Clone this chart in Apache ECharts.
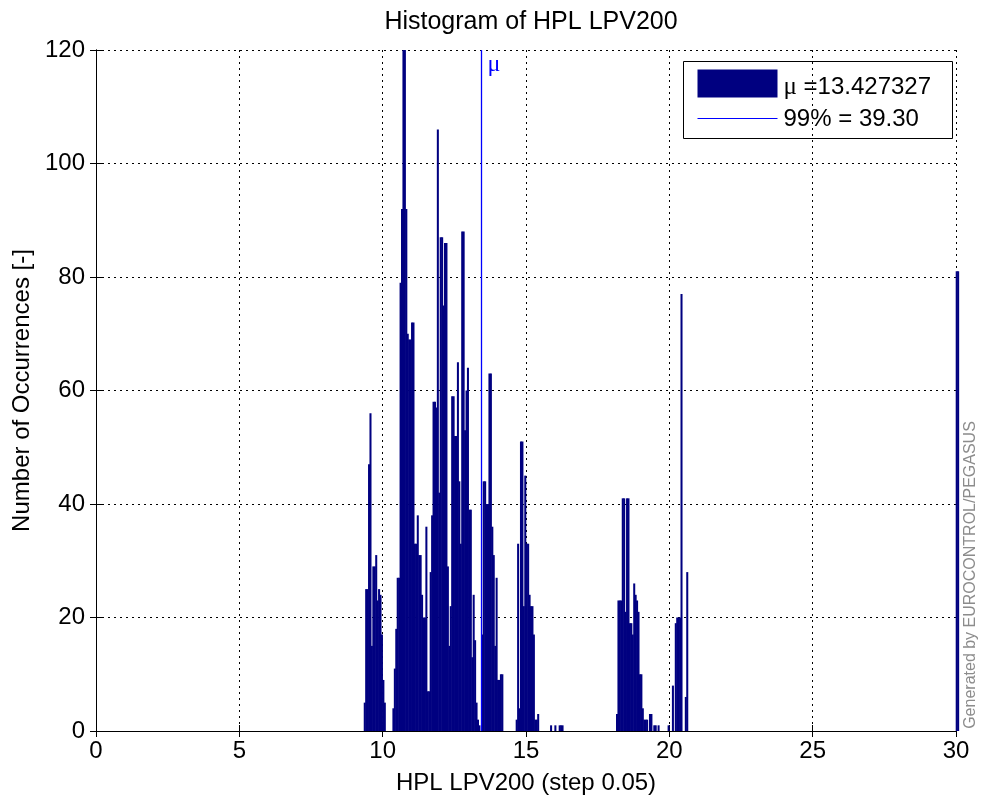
<!DOCTYPE html>
<html>
<head>
<meta charset="utf-8">
<title>Histogram of HPL LPV200</title>
<script src="https://cdn.jsdelivr.net/npm/echarts@6/dist/echarts.min.js"></script>
<style>
    html, body { margin: 0; padding: 0; background: #fff; }
    .hplHistogram { width: 982px; height: 800px; }
</style>
</head>
<body>
<div class="hplHistogram"></div>
<script>
    // histogram bin width (HPL step)
    const binStep = 0.05

    // each cluster: first bin edge + counts per 0.05 bin
    const cluster1Start = 9.35
    const cluster1Counts = [5, 25, 25, 47, 56, 15, 29, 29, 31, 23, 25, 24, 17, 9, 5]

    const cluster2Start = 10.35
    const cluster2Counts = [
        4, 11, 18, 27, 27, 79, 92, 120, 120, 92,
        70, 69, 69, 72, 72, 33, 33, 38, 31, 31,
        24, 20, 20, 36, 7, 7, 28, 38, 58, 58,
        57, 106, 42, 87, 87, 75, 86, 86, 29, 15,
        22, 59, 59, 52, 52, 65, 44, 33, 88, 88,
        53, 60, 64, 39, 39, 13, 24, 16, 5, 2,
        1, 0, 17, 44, 44, 40, 40, 63, 63, 36,
        31, 15, 27, 9, 9, 10, 10
    ]

    const cluster3Start = 14.65
    const cluster3Counts = [2, 33, 4, 51, 51, 22, 45, 33, 33, 24, 22, 22, 17, 2, 2, 3, 0, 0, 0, 0, 0, 0, 0, 0, 1, 0, 0, 1, 0, 0, 1, 1, 1]

    const cluster4Start = 18.15
    const cluster4Counts = [3, 23, 23, 23, 41, 41, 21, 41, 41, 19, 19, 17, 26, 24, 23, 21, 10, 10, 4, 2, 2, 2, 0, 3, 3, 0, 1, 1, 0, 1]

    const cluster5Start = 19.95
    const cluster5Counts = [1, 0, 0, 8, 0, 19, 20, 20, 20, 77, 0, 0, 6, 28]

    // everything above 30 lands in the last bins
    const overflowStart = 30.0
    const overflowCounts = [81, 81]

    const meanValue = 13.427327
    const p99Value = 39.30

    const xTicks = [0, 5, 10, 15, 20, 25, 30]
    const yTicks = [0, 20, 40, 60, 80, 100, 120]

    const barColor = '#000080'
    const lineColor = '#0000ff'
    const fontFamily = '"Liberation Sans", Arial, Helvetica, sans-serif'
    const serifFamily = '"Liberation Serif", "DejaVu Serif", serif'

    // [binStart, count]
    let histData = []
    const clusters = [
        [cluster1Start, cluster1Counts],
        [cluster2Start, cluster2Counts],
        [cluster3Start, cluster3Counts],
        [cluster4Start, cluster4Counts],
        [cluster5Start, cluster5Counts],
        [overflowStart, overflowCounts]
    ]
    clusters.forEach(function (c) {
        c[1].forEach(function (n, i) {
            if (n > 0) {
                histData.push([+(c[0] + i * binStep).toFixed(2), n])
            }
        })
    })

    let hplHistogram = echarts.init(document.querySelector('.hplHistogram'), null, {renderer: 'canvas'})

    const dotted = {
        show: true,
        lineStyle: { color: '#000', width: 1, type: [2, 4] }
    }

    const option = {
        animation: false,
        backgroundColor: '#fff',
        textStyle: { fontFamily: fontFamily },
        title: {
            text: 'Histogram of HPL LPV200',
            left: 526,
            top: 5,
            textAlign: 'center',
            textStyle: {
                color: '#000',
                fontWeight: 'normal',
                fontSize: 25,
                fontFamily: fontFamily
            }
        },
        grid: {
            left: 96,
            top: 50,
            right: 26,
            bottom: 67
        },
        xAxis: [
            {
                type: 'value',
                min: xTicks[0],
                max: xTicks[xTicks.length - 1],
                interval: 5,
                name: 'HPL LPV200 (step 0.05)',
                nameLocation: 'middle',
                nameGap: 40,
                nameTextStyle: { color: '#000', fontSize: 24, fontFamily: fontFamily },
                axisLine: { show: true, lineStyle: { color: '#000', width: 1 } },
                axisTick: { show: true, inside: true, length: 6, lineStyle: { color: '#000' } },
                axisLabel: { color: '#000', fontSize: 24, margin: 8, fontFamily: fontFamily },
                splitLine: dotted
            },
            {
                type: 'value',
                position: 'top',
                min: xTicks[0],
                max: xTicks[xTicks.length - 1],
                interval: 5,
                axisLine: { show: true, lineStyle: { color: '#000', width: 1 } },
                axisTick: { show: true, inside: true, length: 6, lineStyle: { color: '#000' } },
                axisLabel: { show: false },
                splitLine: { show: false }
            }
        ],
        yAxis: [
            {
                type: 'value',
                min: yTicks[0],
                max: yTicks[yTicks.length - 1],
                interval: 20,
                name: 'Number of Occurrences [-]',
                nameLocation: 'middle',
                nameGap: 62,
                nameTextStyle: { color: '#000', fontSize: 24, fontFamily: fontFamily },
                axisLine: { show: true, lineStyle: { color: '#000', width: 1 } },
                axisTick: { show: true, inside: true, length: 6, lineStyle: { color: '#000' } },
                axisLabel: { color: '#000', fontSize: 24, margin: 11, fontFamily: fontFamily },
                splitLine: dotted
            },
            {
                type: 'value',
                position: 'right',
                min: yTicks[0],
                max: yTicks[yTicks.length - 1],
                interval: 20,
                axisLine: { show: true, lineStyle: { color: '#000', width: 1 } },
                axisTick: { show: true, inside: true, length: 6, lineStyle: { color: '#000' } },
                axisLabel: { show: false },
                splitLine: { show: false }
            }
        ],
        series: [
            {
                name: 'μ =' + meanValue.toFixed(6),
                type: 'custom',
                clip: false,
                encode: { x: 0, y: 1 },
                data: histData,
                renderItem: function (params, api) {
                    const x0 = api.value(0)
                    const n = api.value(1)
                    const topLeft = api.coord([x0, n])
                    const bottomRight = api.coord([x0 + binStep, 0])
                    // a little overlap so neighbouring bins read as one solid block
                    return {
                        type: 'rect',
                        shape: {
                            x: topLeft[0] - 0.3,
                            y: topLeft[1],
                            width: bottomRight[0] - topLeft[0] + 0.6,
                            height: bottomRight[1] - topLeft[1]
                        },
                        style: { fill: barColor }
                    }
                },
                z: 3
            },
            {
                // mean marker
                name: 'mean',
                type: 'line',
                data: [],
                color: lineColor,
                markLine: {
                    silent: true,
                    symbol: 'none',
                    lineStyle: { color: lineColor, width: 1.3, type: 'solid', opacity: 1 },
                    label: {
                        show: true,
                        position: 'end',
                        formatter: 'μ',
                        color: lineColor,
                        fontSize: 24,
                        fontFamily: serifFamily,
                        offset: [13, 32]
                    },
                    data: [{ xAxis: meanValue, lineStyle: { color: lineColor } }]
                },
                z: 4
            }
        ],
        graphic: [
            {
                // legend box
                type: 'group',
                left: 683,
                top: 61,
                children: [
                    {
                        type: 'rect',
                        shape: { x: 0, y: 0, width: 269, height: 77 },
                        style: { fill: '#fff', stroke: '#000', lineWidth: 1 }
                    },
                    {
                        type: 'rect',
                        shape: { x: 14, y: 8, width: 80, height: 28 },
                        style: { fill: barColor }
                    },
                    {
                        type: 'line',
                        shape: { x1: 14, y1: 57, x2: 94, y2: 57 },
                        style: { stroke: lineColor, lineWidth: 1 }
                    },
                    {
                        type: 'text',
                        x: 100,
                        y: 26,
                        style: {
                            text: '{mu|μ} =' + meanValue.toFixed(6),
                            fill: '#000',
                            font: '24px ' + fontFamily,
                            verticalAlign: 'middle',
                            rich: {
                                mu: {
                                    fontSize: 25,
                                    fontFamily: serifFamily,
                                    fill: '#000'
                                }
                            }
                        }
                    },
                    {
                        type: 'text',
                        x: 100,
                        y: 58,
                        style: {
                            text: '99% = ' + p99Value.toFixed(2),
                            fill: '#000',
                            font: '24px ' + fontFamily,
                            verticalAlign: 'middle'
                        }
                    }
                ],
                z: 10
            },
            {
                // watermark
                type: 'text',
                x: 971,
                y: 575,
                rotation: Math.PI / 2,
                style: {
                    text: 'Generated by EUROCONTROL/PEGASUS',
                    fill: '#8c8c8c',
                    font: '16px ' + fontFamily,
                    align: 'center',
                    verticalAlign: 'middle'
                },
                z: 10
            }
        ]
    }

    hplHistogram.setOption(option)
</script>
</body>
</html>
